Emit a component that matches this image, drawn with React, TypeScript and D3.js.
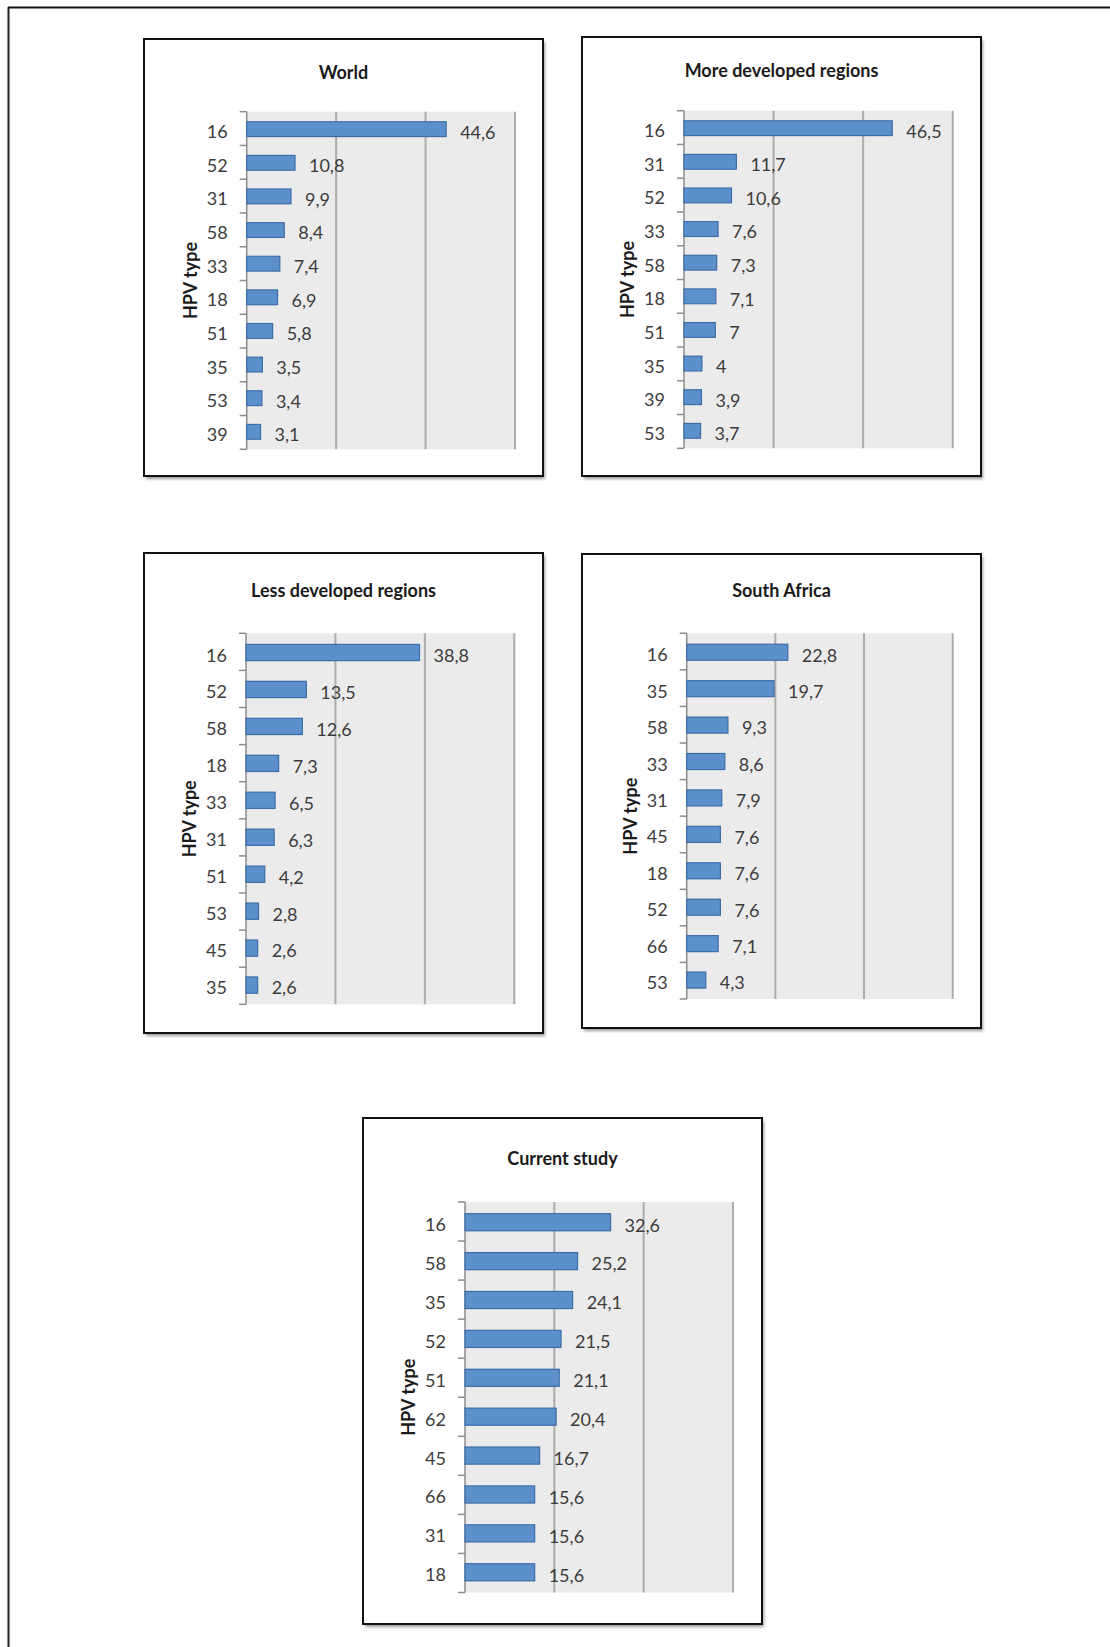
import React from "react";
import * as d3 from "d3";

const worldTypes = ["16", "52", "31", "58", "33", "18", "51", "35", "53", "39"];
const worldValues = [44.6, 10.8, 9.9, 8.4, 7.4, 6.9, 5.8, 3.5, 3.4, 3.1];

const moreDevTypes = ["16", "31", "52", "33", "58", "18", "51", "35", "39", "53"];
const moreDevValues = [46.5, 11.7, 10.6, 7.6, 7.3, 7.1, 7, 4, 3.9, 3.7];

const lessDevTypes = ["16", "52", "58", "18", "33", "31", "51", "53", "45", "35"];
const lessDevValues = [38.8, 13.5, 12.6, 7.3, 6.5, 6.3, 4.2, 2.8, 2.6, 2.6];

const southAfricaTypes = ["16", "35", "58", "33", "31", "45", "18", "52", "66", "53"];
const southAfricaValues = [22.8, 19.7, 9.3, 8.6, 7.9, 7.6, 7.6, 7.6, 7.1, 4.3];

const currentTypes = ["16", "58", "35", "52", "51", "62", "45", "66", "31", "18"];
const currentValues = [32.6, 25.2, 24.1, 21.5, 21.1, 20.4, 16.7, 15.6, 15.6, 15.6];

const gridTicks = [20, 40, 60];
const axisTitle = "HPV type";

type PanelProps = {
  title: string;
  types: string[];
  values: number[];
  frame: [number, number, number, number];
  plot: [number, number, number, number];
  titleY: number;
};

const FONT = "Lato, 'Open Sans', sans-serif";

function Panel({ title, types, values, frame, plot, titleY }: PanelProps) {
  const [fx0, fy0, fx1, fy1] = frame;
  const [px0, py0, px1, py1] = plot;
  const x = d3.scaleLinear().domain([0, 60]).range([px0, px1]);
  const keys = types.map((t, i) => i + ":" + t);
  const y = d3
    .scaleBand<string>()
    .domain(keys)
    .range([py0, py1])
    .paddingInner(0.56)
    .paddingOuter(0.3);
  const step = (py1 - py0) / types.length;
  const fmt = (v: number) => String(v).replace(".", ",");
  const cx = (fx0 + fx1) / 2;
  const midY = (py0 + py1) / 2;
  return (
    <g>
      <rect
        x={fx0 + 2}
        y={fy0 + 3}
        width={fx1 - fx0}
        height={fy1 - fy0}
        fill="#9a9a9a"
        filter="url(#shadowBlur)"
      />
      <rect x={fx0} y={fy0} width={fx1 - fx0} height={fy1 - fy0} fill="#fff" stroke="#111" strokeWidth={2} />
      <text x={cx} y={titleY} textAnchor="middle" fontFamily={FONT} fontWeight={700} fontSize={18} fill="#1a1a1a">
        {title}
      </text>
      <rect x={x(0)} y={py0} width={x(60) - x(0)} height={py1 - py0} fill="#ebebeb" />
      {gridTicks.map((t) => (
        <line key={t} x1={x(t)} x2={x(t)} y1={py0} y2={py1} stroke="#acacac" strokeWidth={2} />
      ))}
      <line x1={x(0)} x2={x(0)} y1={py0} y2={py1} stroke="#8c8c8c" strokeWidth={1.5} />
      {d3.range(types.length + 1).map((i) => (
        <line
          key={"tk" + i}
          x1={x(0) - 7}
          x2={x(0)}
          y1={py0 + i * step}
          y2={py0 + i * step}
          stroke="#8c8c8c"
          strokeWidth={1.5}
        />
      ))}
      {keys.map((k, i) => (
        <g key={k}>
          <rect
            x={x(0)}
            y={y(k)}
            width={x(values[i]) - x(0)}
            height={y.bandwidth()}
            fill="#5b90cc"
            stroke="#3d6da6"
            strokeWidth={1.2}
          />
          <text
            x={x(0) - 19}
            y={(y(k) as number) + y.bandwidth() / 2}
            dy="0.5em"
            textAnchor="end"
            fontFamily={FONT}
            fontSize={18}
            fill="#3c3c3c"
          >
            {types[i]}
          </text>
          <text
            x={x(values[i]) + 14}
            y={(y(k) as number) + y.bandwidth() / 2}
            dy="0.52em"
            fontFamily={FONT}
            fontSize={18}
            fill="#3c3c3c"
          >
            {fmt(values[i])}
          </text>
        </g>
      ))}
      <text
        transform={`translate(${x(0) - 50},${midY}) rotate(-90)`}
        textAnchor="middle"
        fontFamily={FONT}
        fontWeight={700}
        fontSize={18}
        fill="#1a1a1a"
      >
        {axisTitle}
      </text>
    </g>
  );
}

export default function App() {
  return (
    <svg
      width={1110}
      height={1647}
      style={{ position: "absolute", left: 0, top: 0, background: "#fff" }}
    >
      <defs>
        <filter id="shadowBlur" x="-5%" y="-5%" width="110%" height="110%">
          <feGaussianBlur stdDeviation={1.6} />
        </filter>
      </defs>
      <rect x={0} y={0} width={1110} height={1647} fill="#fff" />
      <line x1={8} x2={1110} y1={7.5} y2={7.5} stroke="#111" strokeWidth={2} />
      <line x1={8.5} x2={8.5} y1={7} y2={1647} stroke="#222" strokeWidth={2} />
      <Panel
        title="World"
        types={worldTypes}
        values={worldValues}
        frame={[144, 39, 543, 476]}
        plot={[246.7, 111.7, 515, 449.3]}
        titleY={79}
      />
      <Panel
        title="More developed regions"
        types={moreDevTypes}
        values={moreDevValues}
        frame={[582, 37, 981, 476]}
        plot={[684, 110.7, 952.7, 448.3]}
        titleY={77}
      />
      <Panel
        title="Less developed regions"
        types={lessDevTypes}
        values={lessDevValues}
        frame={[144, 553, 543, 1033]}
        plot={[246, 633.3, 514.3, 1004.3]}
        titleY={597}
      />
      <Panel
        title="South Africa"
        types={southAfricaTypes}
        values={southAfricaValues}
        frame={[582, 554, 981, 1028]}
        plot={[686.7, 633.3, 952.7, 999]}
        titleY={597}
      />
      <Panel
        title="Current study"
        types={currentTypes}
        values={currentValues}
        frame={[363, 1118, 762, 1624]}
        plot={[465, 1202, 733, 1592.5]}
        titleY={1165}
      />
    </svg>
  );
}
